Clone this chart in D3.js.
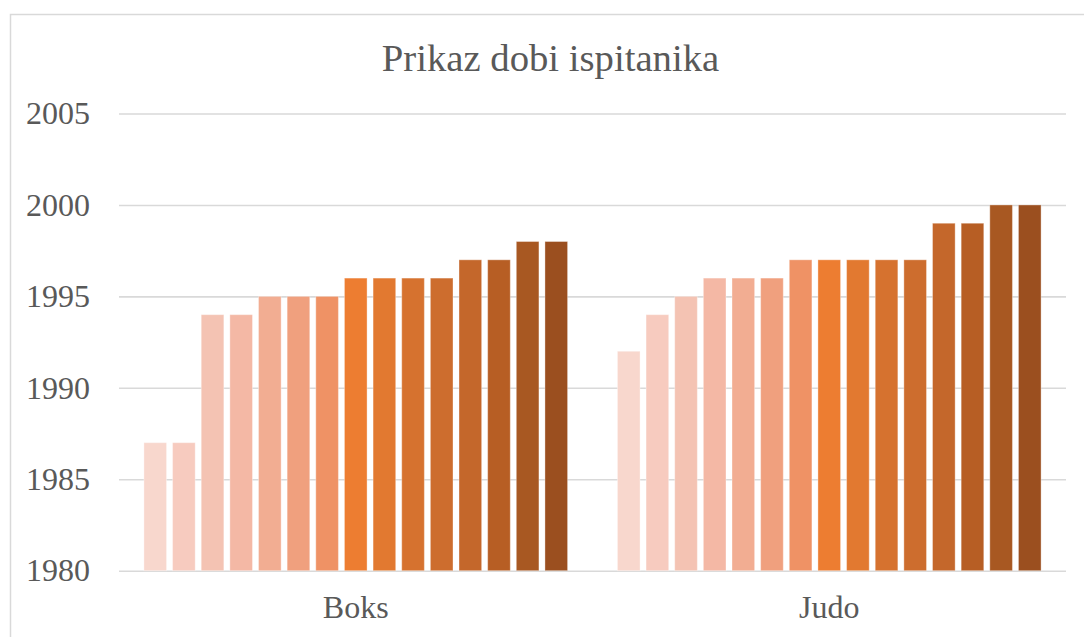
<!DOCTYPE html>
<meta charset="utf-8">
<style>
  body { margin: 0; background: #fff; }
  svg text { font-family: "Liberation Serif", "Times New Roman", "DejaVu Serif", serif; }
</style>

<!-- Load d3.js -->
<script src="https://d3js.org/d3.v7.min.js"></script>

<div id="my_dataviz"></div>

<script>

    // categories and the two groups of values (one bar per respondent)
    var categories = ["Boks", "Judo"];
    var boksValues = [1987, 1987, 1994, 1994, 1995, 1995, 1995, 1996, 1996, 1996, 1996, 1997, 1997, 1998, 1998];
    var judoValues = [1992, 1994, 1995, 1996, 1996, 1996, 1997, 1997, 1997, 1997, 1997, 1999, 1999, 2000, 2000];
    var yTicks = [1980, 1985, 1990, 1995, 2000, 2005];
    var seriesColors = ["#f8d7cd", "#f7cbbf", "#f4c3b3", "#f4b8a5", "#f2ad92", "#f0a07e", "#ef9265",
                        "#ed7d31", "#e27930", "#d6722f", "#cd6d2e", "#c4672b", "#b75e24", "#a85822", "#9b4f1f"];

    var seriesIdx = d3.range(boksValues.length);
    var data = [
      {cat: categories[0], values: boksValues},
      {cat: categories[1], values: judoValues}
    ];

    var width = 1084, height = 637;
    var plot = {left: 119, right: 1066, top: 113.5, bottom: 570.7};
    var textColor = "#595959";

    var svg = d3.select("#my_dataviz")
      .append("svg")
        .attr("width", width)
        .attr("height", height);

    // chart area border
    svg.append("rect")
      .attr("x", 10.5)
      .attr("y", 14.5)
      .attr("width", width)
      .attr("height", height)
      .attr("fill", "none")
      .attr("stroke", "#d9d9d9")
      .attr("stroke-width", 1.5);

    // title
    svg.append("text")
      .attr("x", 550.5)
      .attr("y", 71)
      .attr("text-anchor", "middle")
      .style("font-size", "38.7px")
      .attr("fill", textColor)
      .text("Prikaz dobi ispitanika");

    // scales
    var x = d3.scaleBand()
      .domain(categories)
      .range([plot.left, plot.right]);

    var xSub = d3.scaleBand()
      .domain(seriesIdx)
      .range([0, x.bandwidth()])
      .paddingInner(0.21)
      .paddingOuter(0.87);

    var y = d3.scaleLinear()
      .domain([1980, 2005])
      .range([plot.bottom, plot.top]);

    // y axis: gridlines + labels
    var yAxis = svg.append("g")
      .attr("transform", "translate(" + plot.left + ",0)")
      .call(d3.axisLeft(y).tickValues(yTicks).tickSize(-(plot.right - plot.left)).tickPadding(29).tickFormat(d3.format("d")));
    yAxis.attr("font-family", null);
    yAxis.select(".domain").remove();
    yAxis.selectAll(".tick line")
      .attr("stroke", "#d9d9d9")
      .attr("stroke-width", 1.6);
    yAxis.selectAll(".tick text")
      .style("font-size", "32px")
      .attr("fill", textColor);

    // bars
    var groups = svg.selectAll("g.cat")
      .data(data)
      .enter()
      .append("g")
        .attr("class", "cat")
        .attr("transform", function(d) { return "translate(" + x(d.cat) + ",0)"; });

    groups.selectAll("rect")
      .data(function(d) { return d.values.map(function(v, i) { return {i: i, v: v}; }); })
      .enter()
      .append("rect")
        .attr("x", function(d) { return xSub(d.i); })
        .attr("y", function(d) { return y(d.v); })
        .attr("width", xSub.bandwidth())
        .attr("height", function(d) { return y(1980) - y(d.v); })
        .attr("fill", function(d) { return seriesColors[d.i]; })
        .attr("stroke", "#ffffff")
        .attr("stroke-opacity", 0.35)
        .attr("stroke-width", 1);

    // x axis labels
    var xAxis = svg.append("g")
      .attr("transform", "translate(0," + plot.bottom + ")")
      .call(d3.axisBottom(x).tickSize(0).tickPadding(25));
    xAxis.attr("font-family", null);
    xAxis.select(".domain").remove();
    xAxis.selectAll(".tick text")
      .style("font-size", "32px")
      .attr("fill", textColor);

</script>
